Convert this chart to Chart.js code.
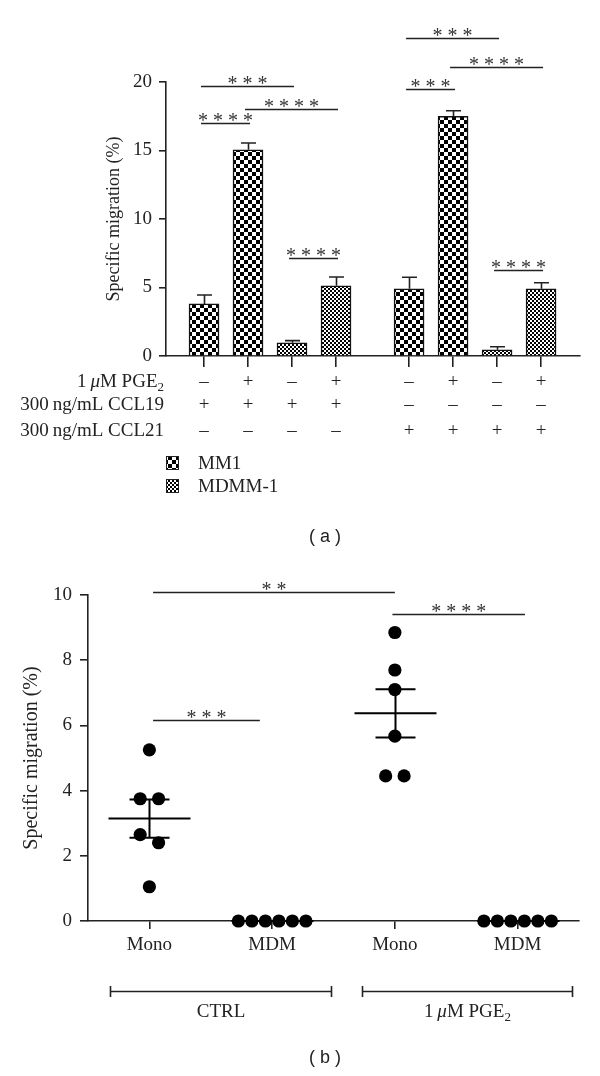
<!DOCTYPE html>
<html>
<head>
<meta charset="utf-8">
<script src="https://cdn.jsdelivr.net/npm/chart.js@4.4.0/dist/chart.umd.min.js"></script>
<style>
    html, body { margin: 0; padding: 0; background: #fff; }
    body { width: 600px; height: 1076px; position: relative; overflow: hidden; }
    .panel { position: absolute; left: 0; width: 600px; }
    #panelA { top: 0; height: 550px; }
    #panelB { top: 550px; height: 526px; }
</style>
</head>
<body>
<div class="panel" id="panelA"><canvas id="migrationBars" width="600" height="550"></canvas></div>
<div class="panel" id="panelB"><canvas id="migrationDots" width="600" height="526"></canvas></div>
<script>
// ---------- panel (a): bars ----------
const cellLines = ['MM1', 'MDMM-1'];
const barCells = ['MM1', 'MM1', 'MDMM-1', 'MDMM-1', 'MM1', 'MM1', 'MDMM-1', 'MDMM-1'];
const barSlots = [1, 2, 3, 4, 5.66, 6.66, 7.66, 8.66];
const barValues = [3.8, 15.05, 0.97, 5.13, 4.9, 17.5, 0.45, 4.9];
const barErrors = [0.65, 0.5, 0.15, 0.64, 0.85, 0.4, 0.22, 0.45];
const barTicks = [0, 5, 10, 15, 20];

// treatment table under the bars
const pge2Row = ['–', '+', '–', '+', '–', '+', '–', '+'];
const ccl19Row = ['+', '+', '+', '+', '–', '–', '–', '–'];
const ccl21Row = ['–', '–', '–', '–', '+', '+', '+', '+'];

// significance: [from bar, to bar, level (%), number of stars]
const barBrackets = [
    [0, 1, 17.0, 4], [0, 2, 19.7, 3], [1, 3, 18.0, 4], [2, 3, 7.15, 4],
    [4, 6, 23.2, 3], [5, 7, 21.1, 4], [4, 5, 19.5, 3], [6, 7, 6.3, 4]
];

// ---------- panel (b): dots ----------
const dotCategories = ['Mono', 'MDM', 'Mono', 'MDM'];
const monoCtrl = [5.25, 3.75, 3.75, 2.65, 2.4, 1.05];
const mdmCtrl = [0, 0, 0, 0, 0, 0];
const monoPge2 = [8.85, 7.7, 7.1, 5.67, 4.45, 4.45];
const mdmPge2 = [0, 0, 0, 0, 0, 0];
const dotTicks = [0, 2, 4, 6, 8, 10];

// significance: [from x, to x, level (%), number of stars]
const dotBrackets = [[1.03, 3.0, 10.08, 2], [1.03, 1.9, 6.17, 3], [2.98, 4.06, 9.42, 4]];
const groupSpans = [['CTRL', 0.68, 2.48], ['PGE2', 2.73, 4.44]];

const SERIF = '"Liberation Serif", "Times New Roman", serif';
const SANS = '"Liberation Sans", Arial, sans-serif';
const INK = '#222';

const pge2Label = [{ t: '1\u2009' }, { t: 'μ', italic: true }, { t: 'M PGE' }, { t: '2', sub: true }];

function stars(n) {
    return Array(n).fill('*').join(' ');
}

// text with italic / subscript pieces
function drawRich(ctx, parts, x, y, align, size) {
    const fontFor = p => (p.italic ? 'italic ' : '') + (p.sub ? Math.round(size * 0.68) : size) + 'px ' + SERIF;
    let total = 0;
    parts.forEach(p => { ctx.font = fontFor(p); total += ctx.measureText(p.t).width; });
    let cx = align === 'right' ? x - total : align === 'center' ? x - total / 2 : x;
    ctx.textAlign = 'left';
    parts.forEach(p => {
        ctx.font = fontFor(p);
        ctx.fillText(p.t, cx, p.sub ? y + size * 0.28 : y);
        cx += ctx.measureText(p.t).width;
    });
}

function makeChecker(cell) {
    const c = document.createElement('canvas');
    c.width = cell * 2;
    c.height = cell * 2;
    const g = c.getContext('2d');
    g.fillStyle = '#fff';
    g.fillRect(0, 0, cell * 2, cell * 2);
    g.fillStyle = '#000';
    g.fillRect(0, 0, cell, cell);
    g.fillRect(cell, cell, cell, cell);
    return document.getElementById('migrationBars').getContext('2d').createPattern(c, 'repeat');
}

const patterns = { 'MM1': makeChecker(4), 'MDMM-1': makeChecker(2) };

function bracket(ctx, x0, x1, py, n) {
    py = Math.round(py) + 0.5;
    ctx.beginPath();
    ctx.moveTo(x0, py);
    ctx.lineTo(x1, py);
    ctx.stroke();
    ctx.font = '20px ' + SERIF;
    ctx.textAlign = 'center';
    ctx.textBaseline = 'alphabetic';
    ctx.fillText(stars(n), (x0 + x1) / 2, py + 3);
}

const barExtras = {
    id: 'barExtras',
    afterDatasetsDraw(chart) {
        const { ctx, scales: { y } } = chart;
        ctx.save();
        ctx.strokeStyle = INK;
        ctx.lineWidth = 1.6;
        chart.data.datasets.forEach((ds, d) => {
            chart.getDatasetMeta(d).data.forEach((bar, j) => {
                const idx = ds.data[j].i;
                const top = y.getPixelForValue(barValues[idx] + barErrors[idx]);
                const cx = Math.round(bar.x) + 0.5;
                ctx.beginPath();
                ctx.moveTo(cx, bar.y);
                ctx.lineTo(cx, top);
                ctx.moveTo(cx - 7.5, top);
                ctx.lineTo(cx + 7.5, top);
                ctx.stroke();
            });
        });
        ctx.restore();
    },
    afterDraw(chart) {
        const { ctx, scales: { x, y } } = chart;
        ctx.save();
        ctx.strokeStyle = INK;
        ctx.fillStyle = '#333';
        ctx.lineWidth = 1.6;
        barBrackets.forEach(([a, b, level, n]) => {
            bracket(ctx, x.getPixelForValue(barSlots[a]) - 3, x.getPixelForValue(barSlots[b]) + 2,
                y.getPixelForValue(level), n);
        });

        // treatment table
        ctx.fillStyle = INK;
        ctx.textBaseline = 'middle';
        const rows = [
            [pge2Label, pge2Row, 382],
            [[{ t: '300\u2009ng/mL CCL19' }], ccl19Row, 405],
            [[{ t: '300\u2009ng/mL CCL21' }], ccl21Row, 431]
        ];
        rows.forEach(([label, signs, ry]) => {
            drawRich(ctx, label, 164, ry, 'right', 19);
            ctx.font = '19px ' + SERIF;
            ctx.textAlign = 'center';
            signs.forEach((s, i) => ctx.fillText(s, x.getPixelForValue(barSlots[i]), ry));
        });

        // legend
        cellLines.forEach((line, i) => {
            const ly = 463 + i * 23;
            ctx.fillStyle = patterns[line];
            ctx.fillRect(166, ly - 7, 13, 14);
            ctx.strokeStyle = INK;
            ctx.lineWidth = 1;
            ctx.strokeRect(166.5, ly - 6.5, 12, 13);
            ctx.fillStyle = INK;
            ctx.font = '19px ' + SERIF;
            ctx.textAlign = 'left';
            ctx.fillText(line, 198, ly + 1);
        });

        ctx.font = '18px ' + SANS;
        ctx.textAlign = 'center';
        ctx.fillText('( a )', 325, 537);
        ctx.restore();
    }
};

new Chart(document.getElementById('migrationBars'), {
    type: 'bar',
    data: {
        datasets: cellLines.map(line => ({
            label: line,
            data: barSlots.map((x, i) => ({ x: x, y: barValues[i], i: i })).filter(p => barCells[p.i] === line),
            backgroundColor: patterns[line],
            borderColor: '#111',
            borderWidth: 1.5,
            borderSkipped: 'bottom',
            barThickness: 30,
            grouped: false
        }))
    },
    options: {
        responsive: false,
        animation: false,
        events: [],
        layout: { padding: { top: 82, left: 103, right: 20, bottom: 183 } },
        plugins: { legend: { display: false }, tooltip: { enabled: false } },
        scales: {
            x: {
                type: 'linear',
                min: 0.136,
                max: 9.545,
                offset: false,
                afterBuildTicks(scale) { scale.ticks = barSlots.map(v => ({ value: v })); },
                ticks: { display: false },
                grid: { offset: false, drawOnChartArea: false, tickLength: 11, color: INK, lineWidth: 1.6 },
                border: { color: INK, width: 1.6 }
            },
            y: {
                min: 0,
                max: 20,
                afterBuildTicks(scale) { scale.ticks = barTicks.map(v => ({ value: v })); },
                afterFit(scale) { scale.width = 63; },
                ticks: { color: INK, padding: 7, font: { family: SERIF, size: 19 } },
                grid: { drawOnChartArea: false, tickLength: 7, color: INK, lineWidth: 1.6 },
                border: { color: INK, width: 1.6 },
                title: {
                    display: true,
                    text: 'Specific migration (%)',
                    color: INK,
                    padding: 0,
                    font: { family: SERIF, size: 18, lineHeight: 1.2 }
                }
            }
        }
    },
    plugins: [barExtras]
});

// ---------- panel (b) ----------
const dotGroups = [monoCtrl, mdmCtrl, monoPge2, mdmPge2];

// spread overlapping dots sideways, like the original swarm
function swarm(values, center) {
    const sorted = values.slice().sort((a, b) => b - a);
    const clusters = [];
    sorted.forEach(v => {
        const last = clusters[clusters.length - 1];
        if (last && last[last.length - 1] - v < 0.4) last.push(v);
        else clusters.push([v]);
    });
    const pts = [];
    clusters.forEach(c => {
        const step = c.length > 2 ? 0.11 : 0.15;
        c.forEach((v, k) => pts.push({ x: center + (k - (c.length - 1) / 2) * step, y: v }));
    });
    return pts;
}

function meanSem(values) {
    const n = values.length;
    const mean = values.reduce((s, v) => s + v, 0) / n;
    const sd = Math.sqrt(values.reduce((s, v) => s + (v - mean) * (v - mean), 0) / (n - 1));
    return { mean: mean, sem: sd / Math.sqrt(n) };
}

const dotExtras = {
    id: 'dotExtras',
    afterDatasetsDraw(chart) {
        const { ctx, scales: { x, y } } = chart;
        ctx.save();
        ctx.strokeStyle = '#000';
        ctx.lineWidth = 2;
        dotGroups.forEach((vals, g) => {
            const { mean, sem } = meanSem(vals);
            const cx = Math.round(x.getPixelForValue(g + 1)) + 0.5;
            const ym = y.getPixelForValue(mean), yu = y.getPixelForValue(mean + sem), yl = y.getPixelForValue(mean - sem);
            ctx.beginPath();
            ctx.moveTo(cx - 41, ym); ctx.lineTo(cx + 41, ym);
            ctx.moveTo(cx - 20, yu); ctx.lineTo(cx + 20, yu);
            ctx.moveTo(cx - 20, yl); ctx.lineTo(cx + 20, yl);
            ctx.moveTo(cx, yu); ctx.lineTo(cx, yl);
            ctx.stroke();
        });
        ctx.restore();
    },
    afterDraw(chart) {
        const { ctx, scales: { x, y } } = chart;
        ctx.save();
        ctx.strokeStyle = INK;
        ctx.fillStyle = '#333';
        ctx.lineWidth = 1.6;
        dotBrackets.forEach(([a, b, level, n]) => {
            bracket(ctx, x.getPixelForValue(a), x.getPixelForValue(b), y.getPixelForValue(level), n);
        });

        // treatment groups under the categories
        ctx.fillStyle = INK;
        ctx.textBaseline = 'middle';
        groupSpans.forEach(([name, a, b]) => {
            const x0 = Math.round(x.getPixelForValue(a)) + 0.5, x1 = Math.round(x.getPixelForValue(b)) + 0.5;
            ctx.beginPath();
            ctx.moveTo(x0, 441.5); ctx.lineTo(x1, 441.5);
            ctx.moveTo(x0, 436); ctx.lineTo(x0, 447);
            ctx.moveTo(x1, 436); ctx.lineTo(x1, 447);
            ctx.stroke();
            const label = name === 'PGE2' ? pge2Label : [{ t: name }];
            drawRich(ctx, label, (x0 + x1) / 2, 462, 'center', 19);
        });

        ctx.font = '18px ' + SANS;
        ctx.textAlign = 'center';
        ctx.fillText('( b )', 325, 508);
        ctx.restore();
    }
};

new Chart(document.getElementById('migrationDots'), {
    type: 'scatter',
    data: {
        datasets: [{
            label: 'cells',
            data: dotGroups.flatMap((vals, g) => swarm(vals, g + 1)),
            backgroundColor: '#000',
            borderWidth: 0,
            pointRadius: 6.6,
            clip: false
        }]
    },
    options: {
        responsive: false,
        animation: false,
        events: [],
        layout: { padding: { top: 45, left: 20, right: 21, bottom: 119 } },
        plugins: { legend: { display: false }, tooltip: { enabled: false } },
        scales: {
            x: {
                type: 'linear',
                min: 0.5,
                max: 4.5,
                afterBuildTicks(scale) { scale.ticks = dotCategories.map((c, i) => ({ value: i + 1 })); },
                afterFit(scale) { scale.height = 36; },
                ticks: {
                    color: INK,
                    padding: 5,
                    autoSkip: false,
                    maxRotation: 0,
                    font: { family: SERIF, size: 19 },
                    callback: v => dotCategories[v - 1]
                },
                grid: { drawOnChartArea: false, tickLength: 8, color: INK, lineWidth: 1.6 },
                border: { color: INK, width: 1.6 }
            },
            y: {
                min: 0,
                max: 10,
                afterBuildTicks(scale) { scale.ticks = dotTicks.map(v => ({ value: v })); },
                afterFit(scale) { scale.width = 68; },
                ticks: { color: INK, padding: 8, font: { family: SERIF, size: 19 } },
                grid: { drawOnChartArea: false, tickLength: 8, color: INK, lineWidth: 1.6 },
                border: { color: INK, width: 1.6 },
                title: {
                    display: true,
                    text: 'Specific migration (%)',
                    color: INK,
                    padding: 0,
                    font: { family: SERIF, size: 20, lineHeight: 1.2 }
                }
            }
        }
    },
    plugins: [dotExtras]
});
</script>
</body>
</html>
